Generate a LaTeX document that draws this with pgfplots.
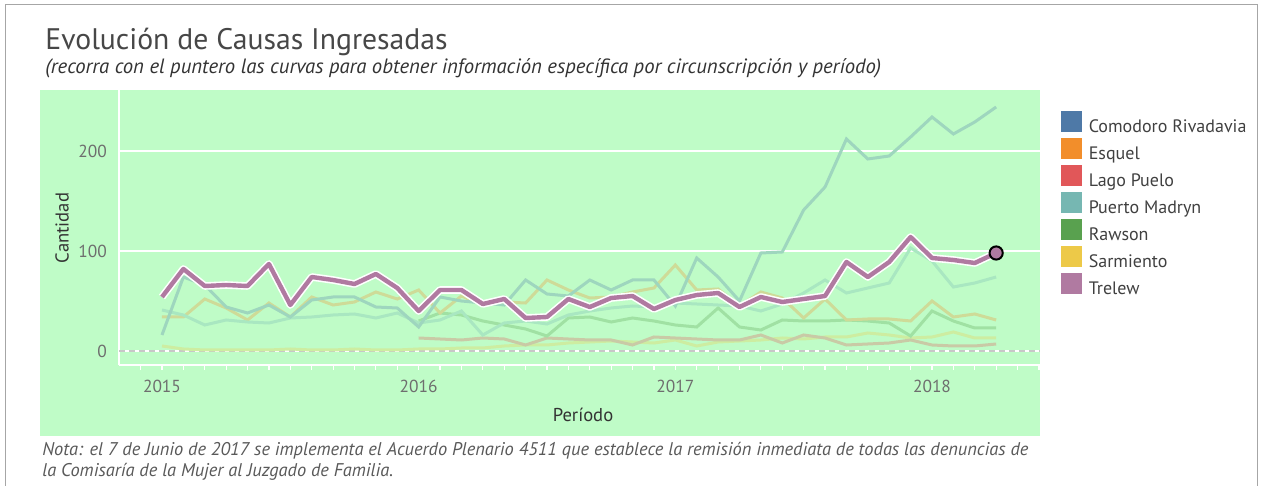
\documentclass[border=0pt]{standalone}
\usepackage{pgfplots}
\pgfplotsset{compat=1.18}
\usepackage{fontspec}
\setmainfont{PT Sans}
\definecolor{bggreen}{RGB}{191,252,199}
\definecolor{tabblue}{HTML}{4E79A7}
\definecolor{taborange}{HTML}{F28E2B}
\definecolor{tabred}{HTML}{E15759}
\definecolor{tabteal}{HTML}{76B7B2}
\definecolor{tabgreen}{HTML}{59A14F}
\definecolor{tabyellow}{HTML}{EDC948}
\definecolor{tabpurple}{HTML}{B07AA1}
\colorlet{fComodoro}{tabblue!29!bggreen}
\colorlet{fEsquel}{taborange!30!bggreen}
\colorlet{fLago}{tabred!30!bggreen}
\colorlet{fMadryn}{tabteal!30!bggreen}
\colorlet{fRawson}{tabgreen!30!bggreen}
\colorlet{fSarmiento}{tabyellow!30!bggreen}
\definecolor{txtgray}{RGB}{110,110,110}
\begin{document}
\begin{tikzpicture}
\path[use as bounding box] (0,0) rectangle (631pt,243pt);
\draw[black!35, line width=0.5pt] (2.5pt,0) -- (2.5pt,240.5pt) -- (628.5pt,240.5pt) -- (628.5pt,0);
\fill[bggreen] (20pt,25pt) rectangle (520pt,198pt);
\node[anchor=base west, inner sep=0pt, font=\fontsize{14.85}{17}\selectfont, text=black!72] at (22.5pt,218pt) {Evolución de Causas Ingresadas};
\node[anchor=base west, inner sep=0pt, font=\fontsize{10.35}{12}\selectfont\itshape, text=black!80] at (22.5pt,206pt) {(recorra con el puntero las curvas para obtener información específica por circunscripción y período)};
\node[anchor=base west, inner sep=0pt, font=\fontsize{9.2}{11}\selectfont\itshape, text=black!65] at (21pt,15pt) {Nota: el 7 de Junio de 2017 se implementa el Acuerdo Plenario 4511 que establece la remisión inmediata de todas las denuncias de};
\node[anchor=base west, inner sep=0pt, font=\fontsize{9.2}{11}\selectfont\itshape, text=black!65] at (21pt,4.7pt) {la Comisaría de la Mujer al Juzgado de Familia.};
\node[rotate=90, inner sep=0pt, font=\fontsize{9.3}{11}\selectfont, text=black!80] at (31pt,129pt) {Cantidad};
\node[inner sep=0pt, font=\fontsize{9.3}{11}\selectfont, text=black!80] at (291.5pt,35.5pt) {Período};
\begin{axis}[
  at={(59.5pt,60.5pt)}, anchor=south west, scale only axis,
  width=460.5pt, height=137.5pt,
  xmin=-2.01, xmax=41.05, ymin=-14, ymax=261,
  axis x line*=bottom, axis y line*=left,
  axis line style={-, draw=white, line width=0.75pt},
  xtick={0,12,24,36}, xticklabels={2015,2016,2017,2018},
  minor xtick={-1,...,41},
  ytick={0,100,200},
  ymajorgrids, grid style={white, line width=0.75pt},
  major tick length=2.5pt, minor tick length=2.5pt, tick align=outside,
  x tick style={white, line width=0.6pt},
  y tick style={draw=none},
  ticklabel style={font=\fontsize{8.7}{10}\selectfont, text=txtgray},
  /pgf/number format/assume math mode=true,
  xticklabel style={yshift=-1.5pt},
  legend style={at={(1.0228,0.924)}, anchor=north west, draw=none, fill=none,
    inner sep=0pt, outer sep=0pt, row sep=0.5pt,
    font=\fontsize{9}{10.8}\selectfont, text=black!75,
    nodes={inner sep=0pt, text depth=2.2pt, text height=7.8pt},
    /tikz/every even column/.append style={column sep=0pt}},
  legend cell align=left,
  legend image code/.code={\fill[#1] (0pt,-2.2pt) rectangle (10pt,7.8pt);},
]
\draw[densely dashed, black!22, line width=0.6pt] (axis cs:-2.01,0) -- (axis cs:41.05,0);
% Sarmiento
\addplot[fSarmiento, line width=1.5pt, forget plot] coordinates {
(0,5)(1,2)(2,1)(3,1)(4,1)(5,1)(6,2)(7,1)(8,1)(9,2)(10,1)(11,1)
(12,2)(13,2)(14,3)(15,3)(16,5)(17,6)(18,6)(19,8)(20,9)(21,10)(22,9)(23,8)
(24,11)(25,5)(26,9)(27,10)(28,11)(29,13)(30,12)(31,14)(32,14)(33,18)(34,16)(35,13)
(36,14)(37,19)(38,13)(39,13)};
% Lago Puelo
\addplot[fLago, line width=1.5pt, forget plot] coordinates {
(12,13)(13,12)(14,11)(15,13)(16,12)(17,6)(18,13)(19,12)(20,11)(21,11)(22,6)(23,14)
(24,13)(25,12)(26,11)(27,11)(28,16)(29,8)(30,16)(31,13)(32,6)(33,7)(34,8)(35,11)
(36,6)(37,5)(38,5)(39,7)};
% Rawson
\addplot[fRawson, line width=1.5pt, forget plot] coordinates {
(12,30)(13,38)(14,36)(15,30)(16,26)(17,22)(18,15)(19,33)(20,34)(21,29)(22,33)(23,30)
(24,26)(25,24)(26,43)(27,24)(28,21)(29,31)(30,30)(31,30)(32,31)(33,30)(34,28)(35,15)
(36,40)(37,30)(38,23)(39,23)};
% Esquel
\addplot[fEsquel, line width=1.5pt, forget plot] coordinates {
(0,34)(1,34)(2,52)(3,43)(4,31)(5,48)(6,34)(7,54)(8,46)(9,49)(10,59)(11,52)
(12,61)(13,38)(14,55)(15,46)(16,49)(17,48)(18,71)(19,61)(20,53)(21,54)(22,59)(23,63)
(24,86)(25,61)(26,62)(27,45)(28,59)(29,53)(30,33)(31,52)(32,31)(33,32)(34,32)(35,30)
(36,50)(37,34)(38,37)(39,31)};
% Puerto Madryn
\addplot[fMadryn, line width=1.5pt, forget plot] coordinates {
(0,41)(1,36)(2,26)(3,31)(4,29)(5,28)(6,33)(7,34)(8,36)(9,37)(10,33)(11,38)
(12,28)(13,31)(14,40)(15,16)(16,28)(17,30)(18,27)(19,36)(20,40)(21,43)(22,45)(23,44)
(24,48)(25,47)(26,46)(27,45)(28,40)(29,47)(30,58)(31,71)(32,58)(33,63)(34,68)(35,103)
(36,90)(37,64)(38,68)(39,74)};
% Comodoro Rivadavia
\addplot[fComodoro, line width=1.5pt, forget plot] coordinates {
(0,16)(1,74)(2,66)(3,44)(4,38)(5,46)(6,34)(7,51)(8,54)(9,54)(10,44)(11,43)
(12,24)(13,54)(14,50)(15,48)(16,46)(17,71)(18,57)(19,55)(20,71)(21,61)(22,71)(23,71)
(24,45)(25,93)(26,74)(27,50)(28,98)(29,99)(30,141)(31,164)(32,212)(33,192)(34,195)(35,214)
(36,234)(37,217)(38,229)(39,244)};
% Trelew halo + line
\addplot[white, line width=3.8pt, line join=round, forget plot] coordinates {
(0,54)(1,82)(2,65)(3,66)(4,65)(5,87)(6,46)(7,74)(8,71)(9,67)(10,77)(11,63)
(12,40)(13,61)(14,61)(15,47)(16,52)(17,33)(18,34)(19,52)(20,44)(21,53)(22,55)(23,42)
(24,51)(25,56)(26,58)(27,44)(28,54)(29,49)(30,52)(31,55)(32,89)(33,74)(34,89)(35,114)
(36,93)(37,91)(38,88)(39,98)};
\addplot[tabpurple, line width=2.2pt, line join=round, forget plot] coordinates {
(0,54)(1,82)(2,65)(3,66)(4,65)(5,87)(6,46)(7,74)(8,71)(9,67)(10,77)(11,63)
(12,40)(13,61)(14,61)(15,47)(16,52)(17,33)(18,34)(19,52)(20,44)(21,53)(22,55)(23,42)
(24,51)(25,56)(26,58)(27,44)(28,54)(29,49)(30,52)(31,55)(32,89)(33,74)(34,89)(35,114)
(36,93)(37,91)(38,88)(39,98)};
\addplot[only marks, mark=*, mark size=3.3pt, mark options={fill=tabpurple, draw=black, line width=1pt}, forget plot] coordinates {(39,98)};
\addlegendimage{tabblue}\addlegendentry{\hspace{3.5pt}Comodoro Rivadavia}
\addlegendimage{taborange}\addlegendentry{\hspace{3.5pt}Esquel}
\addlegendimage{tabred}\addlegendentry{\hspace{3.5pt}Lago Puelo}
\addlegendimage{tabteal}\addlegendentry{\hspace{3.5pt}Puerto Madryn}
\addlegendimage{tabgreen}\addlegendentry{\hspace{3.5pt}Rawson}
\addlegendimage{tabyellow}\addlegendentry{\hspace{3.5pt}Sarmiento}
\addlegendimage{tabpurple}\addlegendentry{\hspace{3.5pt}Trelew}
\end{axis}
\end{tikzpicture}
\end{document}
